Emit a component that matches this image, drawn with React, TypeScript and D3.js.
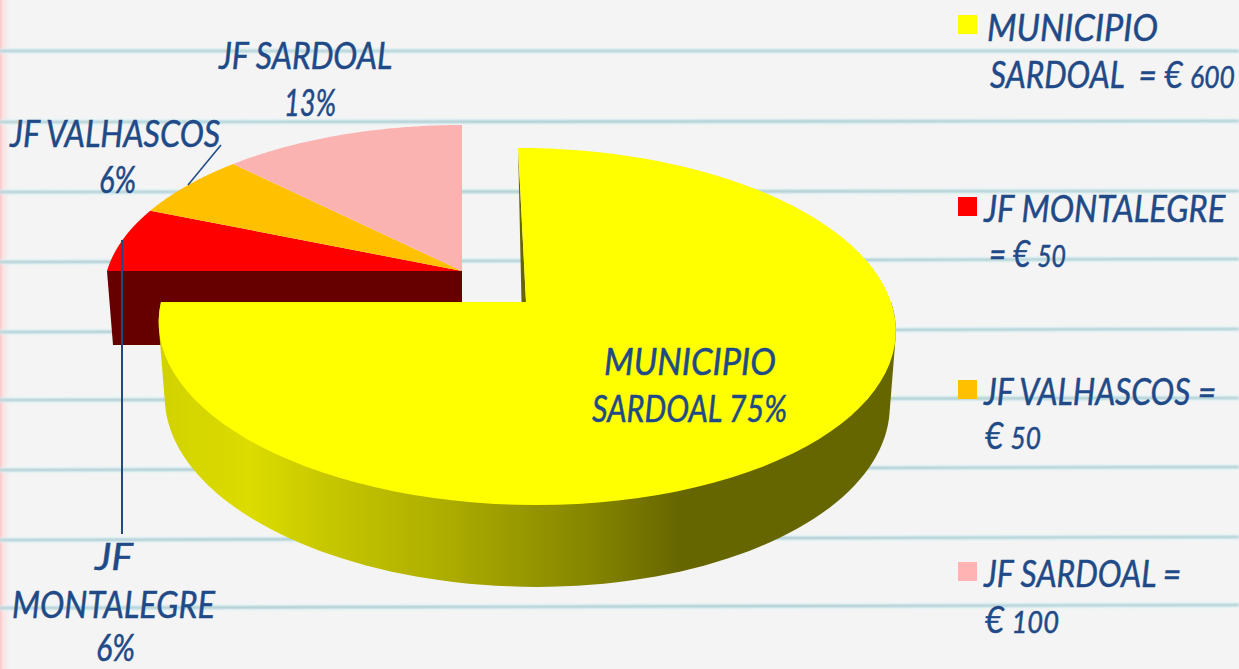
import { pie, line, range, polygonHull, interpolateNumber } from "d3";

const categories = ["MUNICIPIO SARDOAL", "JF MONTALEGRE", "JF VALHASCOS", "JF SARDOAL"];
const amounts = [600, 50, 50, 100];
const sliceColors = ["#ffff00", "#ff0000", "#ffc000", "#fbb3b2"];
const legendColors = ["#ffff00", "#ff0000", "#ffc000", "#ffb3b3"];

// label lines as they wrap in the picture: [text, left, right, baseline]
const legendLines: [string, number, number, number][][] = [
  [["MUNICIPIO", 987, 1158, 41], ["SARDOAL  = € 600", 990, 1236, 88]],
  [["JF MONTALEGRE", 984, 1226, 222], ["= € 50", 989, 1066, 267]],
  [["JF VALHASCOS =", 984, 1218, 405], ["€ 50", 985, 1041, 449]],
  [["JF SARDOAL =", 984, 1183, 587], ["€ 100", 985, 1059, 633]],
];
const legendY = [15, 197, 380, 562];

const dataLabels: [string, number, number, number][] = [
  ["MUNICIPIO", 604, 776, 375],
  ["SARDOAL 75%", 592, 788, 422],
  ["JF", 95, 133, 570],
  ["MONTALEGRE", 12, 215, 618],
  ["6%", 96, 135, 661],
  ["JF VALHASCOS", 10, 222, 147],
  ["6%", 99, 136, 193],
  ["JF SARDOAL", 219, 393, 69],
  ["13%", 284, 336, 116],
];

// notebook rules: y at the left edge, y at the right edge
const ruleLeft = [51, 122, 192, 262, 332, 400, 470, 540, 608];
const ruleRight = [51, 121, 191, 259, 329, 398, 467, 537, 605];

const wallStops: [number, string][] = [
  [165, "#d2d200"],
  [250, "#dcdc00"],
  [330, "#c6c600"],
  [440, "#aeae00"],
  [590, "#858500"],
  [680, "#666600"],
];

const width = 1239;
const height = 669;
const ink = "#1f4a87";
const WALL_X0 = 165;
const WALL_X1 = 680;
const FONT_SIZE = 37;
const DIGIT_SIZE = 31;

type Disc = { cx: number; cy: number; rx: number; ry: number; skew: number };

const persp = 0.137;
const mainTop: Disc = { cx: 526, cy: 302, rx: 365, ry: 175.2, skew: 9 };
const mainBase: Disc = { cx: 526, cy: 376, rx: 359, ry: 182, skew: 9 };
const pieceTop: Disc = { cx: 462, cy: 271, rx: 355, ry: 166, skew: 0 };

// angle clockwise from 12 o'clock -> point on the tilted disc
function project(d: Disc, a: number): [number, number] {
  const u = Math.sin(a);
  const v = -Math.cos(a);
  const k = 1 - persp * v;
  return [d.cx + (d.rx * u + d.skew * v) / k, d.cy + (d.ry * v) / k];
}

function arcPoints(d: Disc, a0: number, a1: number) {
  const t = interpolateNumber(a0, a1);
  return range(0, 97).map((i) => project(d, t(i / 96)));
}

const path = line();

function slicePath(d: Disc, a0: number, a1: number) {
  return path([[d.cx, d.cy], ...arcPoints(d, a0, a1)]) + "Z";
}

const ctx = document.createElement("canvas").getContext("2d")!;

// the euro amounts sit smaller than the capitals
function splitRuns(text: string) {
  if (!text.includes("€")) return [{ run: text, size: FONT_SIZE }];
  return text
    .split(/(\d+)/)
    .filter((run) => run !== "")
    .map((run) => ({ run, size: /^\d+$/.test(run) ? DIGIT_SIZE : FONT_SIZE }));
}

function naturalWidth(runs: { run: string; size: number }[]) {
  return runs.reduce((sum, r) => {
    ctx.font = `italic ${r.size}px Lato`;
    return sum + ctx.measureText(r.run).width;
  }, 0);
}

export default function App() {
  const arcs = pie<number>().sort(null)(amounts);
  const main = arcs[0];

  const hull = polygonHull([
    ...arcPoints(mainTop, Math.PI / 2, main.endAngle),
    ...arcPoints(mainBase, Math.PI / 2, main.endAngle),
  ])!;

  const pieceLeft = project(pieceTop, main.endAngle);
  const pieceDepth = 74;
  const pieceWall = path([
    pieceLeft,
    [pieceTop.cx, pieceTop.cy],
    [pieceTop.cx, pieceTop.cy + pieceDepth],
    [pieceLeft[0] + 6, pieceTop.cy + pieceDepth],
  ]) + "Z";

  const innerTop = project(mainTop, main.startAngle);
  const innerWall = path([innerTop, [mainTop.cx, mainTop.cy], [mainTop.cx - 4.5, mainTop.cy]]) + "Z";

  // the reference lettering is tall and narrow, so each line is squeezed to its measured width
  const renderLine = ([text, x0, x1, y]: [string, number, number, number], key: string) => {
    const runs = splitRuns(text);
    const sx = (x1 - x0) / naturalWidth(runs);
    return (
      <text
        key={key}
        transform={`translate(${x0},${y}) scale(${sx},1)`}
        fontFamily="Lato, sans-serif"
        fontStyle="italic"
        fontSize={FONT_SIZE}
        fill={ink}
        stroke={ink}
        strokeWidth={0.5}
        xmlSpace="preserve">
        {runs.map((r, i) => (
          <tspan key={i} fontSize={r.size}>{r.run}</tspan>
        ))}
      </text>
    );
  };

  return (
    <svg
      width={width}
      height={height}
      style={{ position: "fixed", left: 0, top: 0, display: "block" }}>
      <defs>
        <linearGradient id="margin" x1="0" x2="1" y1="0" y2="0">
          <stop offset="0" stopColor="#f9c8c8" />
          <stop offset="0.3" stopColor="#fbe2e2" />
          <stop offset="1" stopColor="#f4f4f4" />
        </linearGradient>
        <linearGradient id="wall" gradientUnits="userSpaceOnUse" x1={WALL_X0} x2={WALL_X1} y1="0" y2="0">
          {wallStops.map(([x, c]) => (
            <stop key={x} offset={(x - WALL_X0) / (WALL_X1 - WALL_X0)} stopColor={c} />
          ))}
        </linearGradient>
        <filter id="soft" x="-5%" y="-500%" width="110%" height="1100%">
          <feGaussianBlur stdDeviation="0.8" />
        </filter>
      </defs>

      <rect width={width} height={height} fill="#f4f4f4" />
      <rect width={10} height={height} fill="url(#margin)" />

      <g filter="url(#soft)">
        {ruleLeft.map((y, i) => (
          <g key={y}>
            <line x1={0} x2={width} y1={y} y2={ruleRight[i]} stroke="#dff4f7" strokeWidth={5} />
            <line x1={0} x2={width} y1={y} y2={ruleRight[i]} stroke="#8cb2ba" strokeWidth={1.6} />
          </g>
        ))}
      </g>

      <path d={pieceWall} fill="#660000" />
      {arcs.slice(1).map((a, i) => (
        <path
          key={categories[i + 1]}
          d={slicePath(pieceTop, a.startAngle, a.endAngle)}
          fill={sliceColors[i + 1]}
        />
      ))}

      <line x1={221} y1={145} x2={188} y2={185} stroke={ink} strokeWidth={1.5} />
      <line x1={122} y1={240} x2={122} y2={534} stroke={ink} strokeWidth={2} />

      <path d={path(hull) + "Z"} fill="url(#wall)" />
      <path d={innerWall} fill="#666600" />
      <path d={slicePath(mainTop, main.startAngle, main.endAngle)} fill={sliceColors[0]} />

      {dataLabels.map((l, i) => renderLine(l, `label-${i}`))}

      {categories.map((c, i) => (
        <g key={c}>
          <rect x={958} y={legendY[i]} width={19} height={19} fill={legendColors[i]} />
          {legendLines[i].map((l, j) => renderLine(l, `${c}-${j}`))}
        </g>
      ))}
    </svg>
  );
}
